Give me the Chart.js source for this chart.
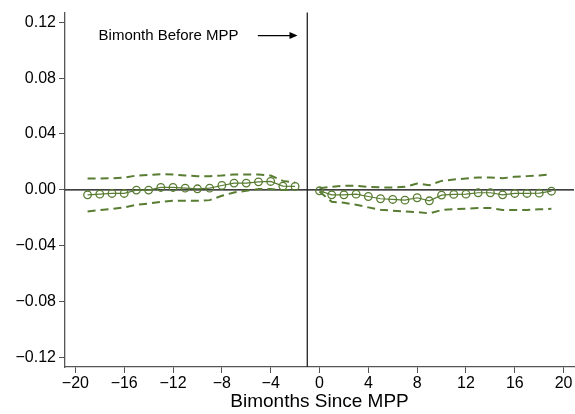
<!DOCTYPE html>
<html>
<head>
<meta charset="utf-8">
<script src="https://cdn.jsdelivr.net/npm/chart.js@4"></script>
<style>
  html, body { margin: 0; padding: 0; background: #fff; overflow: hidden; }
  #wrap { width: 575px; height: 414px; }
  canvas { display: block; }
</style>
</head>
<body>
<div id="wrap"><canvas id="chart" width="575" height="414"></canvas></div>
<script>
// bimonths before / after the MPP
const preX = [-19, -18, -17, -16, -15, -14, -13, -12, -11, -10, -9, -8, -7, -6, -5, -4, -3, -2];
const preCoef = [-0.0036, -0.0031, -0.0026, -0.0026, -0.0002, -0.0002, 0.0017, 0.0017, 0.0012, 0.0007, 0.0012, 0.0031, 0.0048, 0.0048, 0.0057, 0.0060, 0.0026, 0.0024];
const preUpper = [0.0081, 0.0081, 0.0083, 0.0088, 0.0102, 0.0107, 0.0112, 0.0110, 0.0102, 0.0098, 0.0098, 0.0102, 0.0110, 0.0110, 0.0110, 0.0102, 0.0064, 0.0052];
const preLower = [-0.0155, -0.0145, -0.0138, -0.0126, -0.0107, -0.0098, -0.0086, -0.0079, -0.0079, -0.0079, -0.0074, -0.0043, -0.0019, -0.0007, 0.0005, 0.0005, -0.0002, -0.0002];

const postX = [0, 1, 2, 3, 4, 5, 6, 7, 8, 9, 10, 11, 12, 13, 14, 15, 16, 17, 18, 19];
const postCoef = [-0.0007, -0.0036, -0.0036, -0.0031, -0.0048, -0.0064, -0.0069, -0.0074, -0.0057, -0.0079, -0.0038, -0.0033, -0.0031, -0.0021, -0.0021, -0.0036, -0.0026, -0.0026, -0.0024, -0.0010];
const postUpper = [0.0012, 0.0021, 0.0029, 0.0029, 0.0021, 0.0017, 0.0017, 0.0021, 0.0045, 0.0033, 0.0064, 0.0074, 0.0081, 0.0088, 0.0088, 0.0083, 0.0093, 0.0098, 0.0102, 0.0112];
const postLower = [-0.0012, -0.0086, -0.0093, -0.0107, -0.0126, -0.0143, -0.0150, -0.0155, -0.0160, -0.0169, -0.0145, -0.0138, -0.0136, -0.0131, -0.0131, -0.0145, -0.0145, -0.0145, -0.0140, -0.0136];

const xTicks = [-20, -16, -12, -8, -4, 0, 4, 8, 12, 16, 20];
const yTicks = [-0.12, -0.08, -0.04, 0, 0.04, 0.08, 0.12];

const eventX = -1;
const annotationText = "Bimonth Before MPP";
const xTitle = "Bimonths Since MPP";

const green = "#587c31";
const fontFamily = "'Liberation Sans', Arial, sans-serif";

function pts(xs, ys) {
    return xs.map((x, i) => ({ x: x, y: ys[i] }));
}

function ciSet(xs, ys) {
    return {
        data: pts(xs, ys),
        showLine: true,
        borderColor: green,
        borderWidth: 2,
        borderDash: [8, 5],
        pointRadius: 0,
        fill: false
    };
}

function coefSet(xs, ys) {
    return {
        data: pts(xs, ys),
        showLine: true,
        borderColor: green,
        borderWidth: 1.2,
        pointRadius: 3.8,
        pointBorderWidth: 1.3,
        pointBackgroundColor: "rgba(0,0,0,0)",
        pointBorderColor: green,
        fill: false
    };
}

// reference lines and the text note
const refLines = {
    id: "refLines",
    beforeDatasetsDraw(chart) {
        const { ctx, chartArea, scales } = chart;
        const x0 = scales.x.getPixelForValue(eventX);
        const y0 = scales.y.getPixelForValue(0);
        ctx.save();
        ctx.strokeStyle = "#000";
        ctx.lineWidth = 1.3;
        ctx.beginPath();
        ctx.moveTo(chartArea.left, y0);
        ctx.lineTo(chartArea.right, y0);
        ctx.stroke();
        ctx.strokeStyle = "#222";
        ctx.beginPath();
        ctx.moveTo(x0, chartArea.top);
        ctx.lineTo(x0, chartArea.bottom);
        ctx.stroke();
        ctx.restore();
    },
    afterDatasetsDraw(chart) {
        const { ctx, scales } = chart;
        const ty = scales.y.getPixelForValue(0.1105);
        const tx = scales.x.getPixelForValue(-18.1);
        ctx.save();
        ctx.fillStyle = "#000";
        ctx.font = "15px " + fontFamily;
        ctx.textBaseline = "middle";
        ctx.textAlign = "left";
        ctx.fillText(annotationText, tx, ty);
        const a1 = scales.x.getPixelForValue(-5.05);
        const a2 = scales.x.getPixelForValue(-1.8);
        ctx.strokeStyle = "#000";
        ctx.lineWidth = 1.3;
        ctx.beginPath();
        ctx.moveTo(a1, ty);
        ctx.lineTo(a2 - 2, ty);
        ctx.stroke();
        ctx.beginPath();
        ctx.moveTo(a2, ty);
        ctx.lineTo(a2 - 8, ty - 3.5);
        ctx.lineTo(a2 - 8, ty + 3.5);
        ctx.closePath();
        ctx.fill();
        ctx.restore();
    }
};

function minus(s) {
    return String(s).replace("-", "\u2212");
}

new Chart(document.getElementById("chart"), {
    type: "scatter",
    data: {
        datasets: [
            ciSet(preX, preUpper),
            ciSet(preX, preLower),
            ciSet(postX, postUpper),
            ciSet(postX, postLower),
            coefSet(preX, preCoef),
            coefSet(postX, postCoef)
        ]
    },
    options: {
        responsive: false,
        animation: false,
        layout: { autoPadding: false, padding: { top: 10, right: 1, left: 0, bottom: 0 } },
        plugins: { legend: { display: false }, tooltip: { enabled: false } },
        scales: {
            x: {
                type: "linear",
                min: -20.85,
                max: 20.85,
                afterFit(axis) {
                    axis.height = 47;
                    axis.paddingLeft = 0;
                    axis.paddingRight = 0;
                },
                afterBuildTicks(axis) {
                    axis.ticks = xTicks.map(v => ({ value: v }));
                },
                ticks: {
                    color: "#000",
                    padding: 1,
                    maxRotation: 0,
                    autoSkip: false,
                    font: { family: fontFamily, size: 16 },
                    callback: v => minus(v)
                },
                grid: { drawOnChartArea: false, drawTicks: true, tickLength: 6, color: "#555" },
                border: { display: true, color: "#555", width: 1.3 },
                title: {
                    display: true,
                    text: xTitle,
                    color: "#000",
                    padding: { top: 0, bottom: 1 },
                    font: { family: fontFamily, size: 19 }
                }
            },
            y: {
                min: -0.127,
                max: 0.127,
                afterFit(axis) { axis.width = 65; },
                afterBuildTicks(axis) {
                    axis.ticks = yTicks.map(v => ({ value: v }));
                },
                ticks: {
                    color: "#000",
                    padding: 3,
                    font: { family: fontFamily, size: 16 },
                    callback: v => minus(Number(v).toFixed(2))
                },
                grid: { drawOnChartArea: false, drawTicks: true, tickLength: 6, color: "#555" },
                border: { display: true, color: "#555", width: 1.3 }
            }
        }
    },
    plugins: [refLines]
});
</script>
</body>
</html>
